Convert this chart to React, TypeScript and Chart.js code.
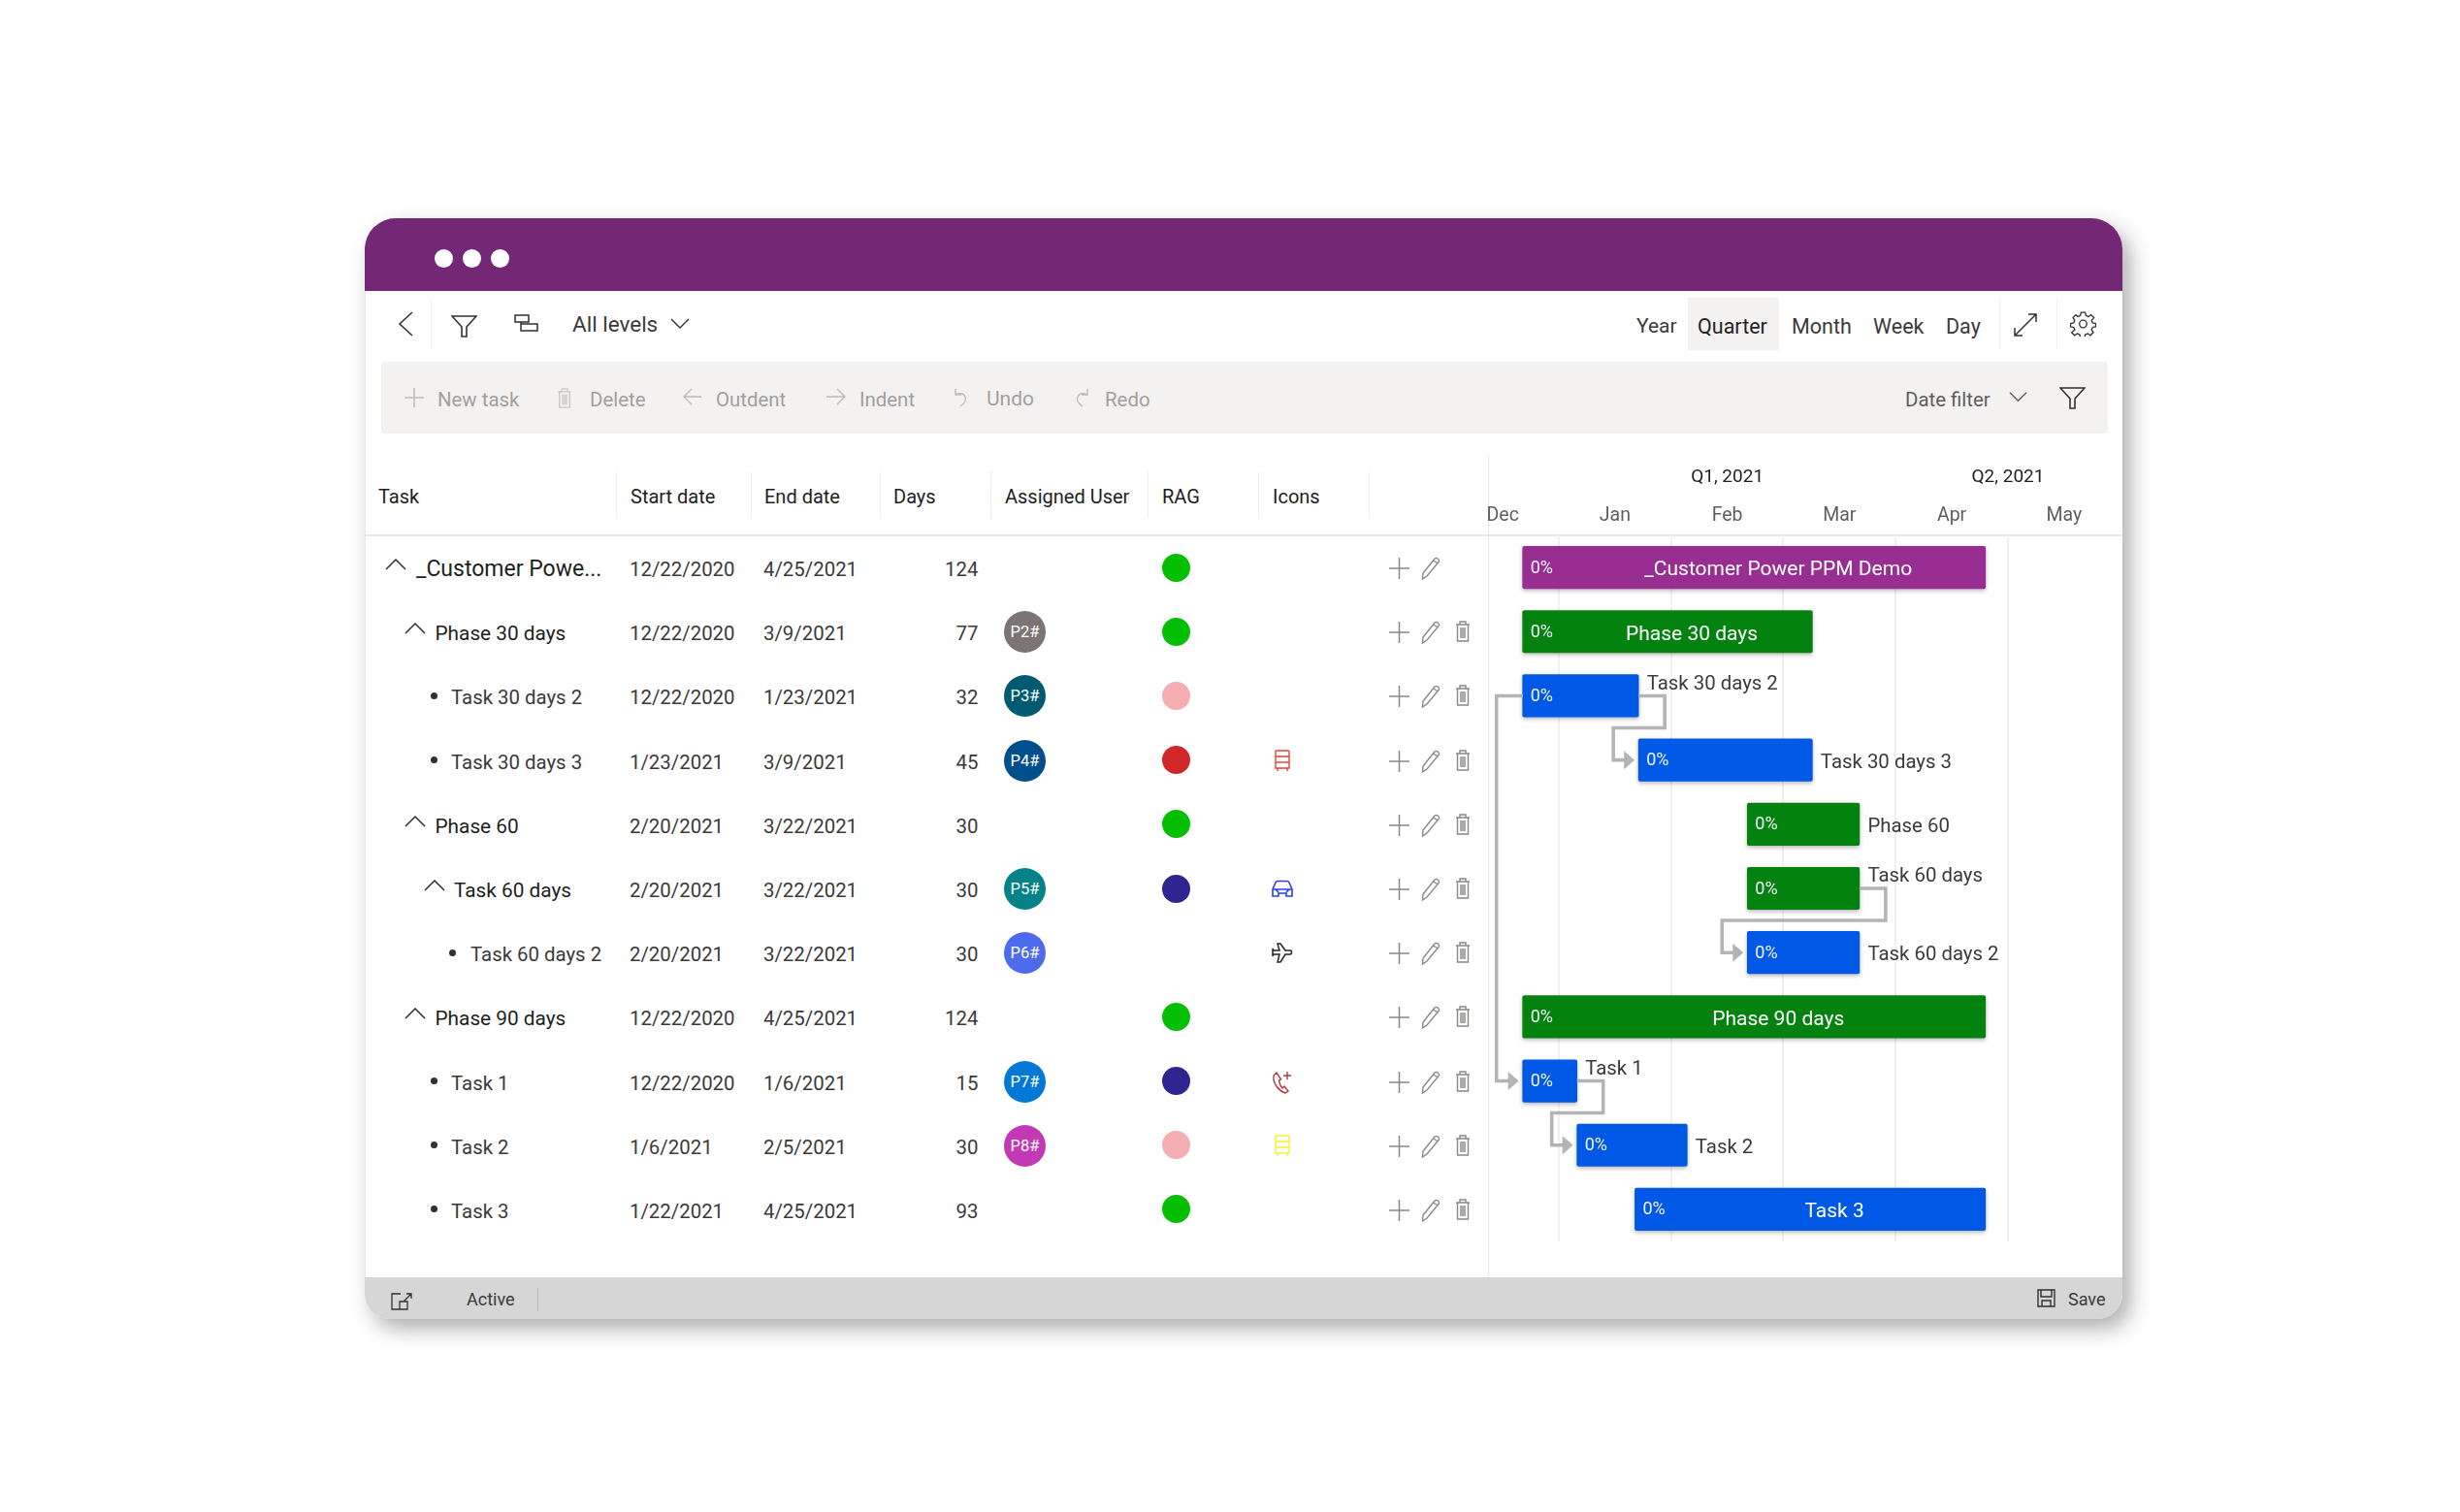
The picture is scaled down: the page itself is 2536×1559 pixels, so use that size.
import { useEffect, useRef } from 'react'
import { Chart, registerables } from 'chart.js'

Chart.register(...registerables)

const FONT = 'Roboto, sans-serif'

// table + gantt data
const taskNames = ['_Customer Power PPM Demo', 'Phase 30 days', 'Task 30 days 2', 'Task 30 days 3', 'Phase 60', 'Task 60 days', 'Task 60 days 2', 'Phase 90 days', 'Task 1', 'Task 2', 'Task 3']
const tableNames = ['_Customer Powe...', 'Phase 30 days', 'Task 30 days 2', 'Task 30 days 3', 'Phase 60', 'Task 60 days', 'Task 60 days 2', 'Phase 90 days', 'Task 1', 'Task 2', 'Task 3']
const startDates = ['12/22/2020', '12/22/2020', '12/22/2020', '1/23/2021', '2/20/2021', '2/20/2021', '2/20/2021', '12/22/2020', '12/22/2020', '1/6/2021', '1/22/2021']
const endDates = ['4/25/2021', '3/9/2021', '1/23/2021', '3/9/2021', '3/22/2021', '3/22/2021', '3/22/2021', '4/25/2021', '1/6/2021', '2/5/2021', '4/25/2021']
const durations = [124, 77, 32, 45, 30, 30, 30, 124, 15, 30, 93]
const levels = [0, 1, 2, 2, 1, 2, 3, 1, 2, 2, 2]
const isParent = [true, true, false, false, true, true, false, true, false, false, false]
const users = ['', 'P2#', 'P3#', 'P4#', '', 'P5#', 'P6#', '', 'P7#', 'P8#', '']
const userColors = ['', '#7a7574', '#005b70', '#004e8c', '', '#038387', '#4f6bed', '', '#0078d4', '#c239b3', '']
const ragColors = ['#05bf05', '#05bf05', '#f4adb0', '#d02828', '#05bf05', '#2e2591', '', '#05bf05', '#2e2591', '#f4adb0', '#05bf05']
const rowIcons = ['', '', '', 'train', '', 'car', 'plane', '', 'phone', 'bus', '']
const barColors = ['#982e92', '#048210', '#0058e6', '#0058e6', '#048210', '#048210', '#0058e6', '#048210', '#0058e6', '#0058e6', '#0058e6']
// [from row, to row, side of the source bar the link leaves]
const links: [number, number, string][] = [[2, 3, 'end'], [2, 8, 'start'], [5, 6, 'end'], [8, 9, 'end']]
const raisedLabels = [2, 5, 8]

// the axis counts months from Dec 2020, every month gets the same width
const monthLabels = ['Dec', 'Jan', 'Feb', 'Mar', 'Apr', 'May']
const monthCenters = [0.5, 1.5, 2.5, 3.5, 4.5, 5.5]
const monthLines = [1, 2, 3, 4, 5]
const quarterLabels = ['Q1, 2021', 'Q2, 2021']
const quarterCenters = [2.5, 5]

const monthOf = (d: string) => {
  const [m, day, y] = d.split('/').map(Number)
  const daysInMonth = new Date(Date.UTC(y, m, 0)).getUTCDate()
  return (y - 2020) * 12 + m - 12 + (day - 1) / daysInMonth
}

const ROW0 = 585.1
const ROWH = 66.18

const ganttPlugin = {
  id: 'gantt',
  beforeDatasetsDraw(chart: any) {
    const { ctx } = chart
    ctx.save()
    ctx.shadowColor = 'rgba(0,0,0,0.28)'
    ctx.shadowBlur = 4
    ctx.shadowOffsetY = 2
  },
  afterDatasetsDraw(chart: any) {
    const { ctx, scales } = chart
    ctx.restore()
    const xs = scales.x
    const ys = scales.y
    const px = (i: number, which: 0 | 1) => xs.getPixelForValue(which ? monthOf(endDates[i]) : monthOf(startDates[i]))

    // elbow links
    ctx.save()
    ctx.strokeStyle = '#b4b4b4'
    ctx.fillStyle = '#b4b4b4'
    ctx.lineWidth = 3.6
    links.forEach(([a, b, side]) => {
      const y0 = ys.getPixelForValue(a)
      const y1 = ys.getPixelForValue(b)
      const tx = px(b, 0)
      ctx.beginPath()
      if (side === 'end') {
        const x0 = px(a, 1)
        const midY = y0 + 33
        ctx.moveTo(x0, y0)
        ctx.lineTo(x0 + 27, y0)
        ctx.lineTo(x0 + 27, midY)
        ctx.lineTo(tx - 26, midY)
        ctx.lineTo(tx - 26, y1)
      } else {
        const x0 = px(a, 0)
        ctx.moveTo(x0, y0)
        ctx.lineTo(x0 - 27, y0)
        ctx.lineTo(x0 - 27, y1)
      }
      ctx.lineTo(tx - 12, y1)
      ctx.stroke()
      ctx.beginPath()
      ctx.moveTo(tx - 15, y1 - 9.5)
      ctx.lineTo(tx - 4, y1)
      ctx.lineTo(tx - 15, y1 + 9.5)
      ctx.closePath()
      ctx.fill()
    })
    ctx.restore()

    // labels on the bars
    ctx.save()
    ctx.textBaseline = 'middle'
    taskNames.forEach((name, i) => {
      const x0 = px(i, 0)
      const x1 = px(i, 1)
      const y = ys.getPixelForValue(i)
      ctx.fillStyle = '#f2f6ff'
      ctx.textAlign = 'left'
      ctx.font = `18px ${FONT}`
      ctx.fillText('0%', x0 + 8, y + 1)
      if (x1 - x0 > 250) {
        ctx.font = `21px ${FONT}`
        ctx.fillStyle = '#ffffff'
        ctx.textAlign = 'center'
        ctx.fillText(name, (x0 + x1) / 2 + 25, y + 3)
      } else {
        ctx.font = `20.4px ${FONT}`
        ctx.fillStyle = '#3b3a39'
        ctx.fillText(name, x1 + 8.5, raisedLabels.includes(i) ? y - 12 : y + 3)
      }
    })
    ctx.restore()
  },
}

const noSidePadding = (s: any, height: number) => {
  s.height = height
  s.paddingLeft = 0
  s.paddingRight = 0
}

function GanttChart() {
  const canvasRef = useRef<HTMLCanvasElement>(null)

  useEffect(() => {
    if (!canvasRef.current) return
    const xMin = 0.369
    const xMax = 6.02
    const chart = new Chart(canvasRef.current, {
      type: 'bar',
      data: {
        labels: taskNames,
        datasets: [
          {
            data: taskNames.map((_, i) => [monthOf(startDates[i]), monthOf(endDates[i])]),
            backgroundColor: barColors,
            borderRadius: 2,
            borderSkipped: false,
            barThickness: 43.5,
          },
        ],
      } as any,
      options: {
        indexAxis: 'y',
        animation: false,
        responsive: false,
        layout: { padding: 0 },
        plugins: { legend: { display: false }, tooltip: { enabled: false } },
        scales: {
          y: { type: 'category', display: false, offset: true, grid: { display: false } },
          x: {
            type: 'linear',
            position: 'top',
            min: xMin,
            max: xMax,
            afterFit: (s: any) => noSidePadding(s, 40),
            afterBuildTicks: (s: any) => {
              s.ticks = [...monthCenters, ...monthLines].sort((a, b) => a - b).map((value) => ({ value }))
            },
            ticks: {
              autoSkip: false,
              maxRotation: 0,
              padding: 8,
              color: '#605e5c',
              font: { family: FONT, size: 19.5 },
              callback: (v: any) => monthLabels[monthCenters.indexOf(v)] ?? '',
            },
            grid: {
              drawTicks: false,
              color: (c: any) => (monthLines.includes(c.tick?.value) ? '#f1f1f1' : 'rgba(0,0,0,0)'),
              lineWidth: 2,
            },
            border: { display: false },
          },
          xq: {
            type: 'linear',
            position: 'top',
            min: xMin,
            max: xMax,
            afterFit: (s: any) => noSidePadding(s, 42),
            afterBuildTicks: (s: any) => {
              s.ticks = quarterCenters.map((value) => ({ value }))
            },
            ticks: {
              autoSkip: false,
              maxRotation: 0,
              padding: 8,
              color: '#201f1e',
              font: { family: FONT, size: 19 },
              callback: (v: any) => quarterLabels[quarterCenters.indexOf(v)] ?? '',
            },
            grid: { display: false, drawTicks: false },
            border: { display: false },
          },
        },
      } as any,
      plugins: [ganttPlugin],
    })
    return () => { chart.destroy() }
  }, [])

  return (
    <canvas
      ref={canvasRef}
      width={654}
      height={810}
      style={{ position: 'absolute', left: 1534, top: 470, width: 654, height: 810 }}
    />
  )
}

function T({ x, y, size = 20.4, color = '#3b3a39', weight = 400, right, children }: any) {
  return (
    <div
      style={{
        position: 'absolute',
        left: right === undefined ? x : undefined,
        right: right === undefined ? undefined : 2536 - right,
        top: y,
        transform: 'translateY(-50%)',
        fontSize: size,
        color,
        fontWeight: weight,
        whiteSpace: 'nowrap',
        lineHeight: 1.2,
      }}
    >
      {children}
    </div>
  )
}

function Icon({ x, y, w, h, vw = 24, vh = 24, color = '#444', sw = 1.3, children }: any) {
  return (
    <svg
      width={w}
      height={h}
      viewBox={`0 0 ${vw} ${vh}`}
      fill="none"
      stroke={color}
      strokeWidth={sw}
      style={{ position: 'absolute', left: x, top: y }}
    >
      {children}
    </svg>
  )
}

const Box = ({ x, y, w, h, c, r = 0 }: any) => (
  <div style={{ position: 'absolute', left: x, top: y, width: w, height: h, background: c, borderRadius: r }} />
)

const FilterIcon = ({ x, y, w, h, color }: any) => (
  <Icon x={x} y={y} w={w} h={h} vw={27} vh={23} color={color} sw={1.6}>
    <path d="M1 1h25L16 12v10h-5V12z" />
  </Icon>
)
const Trash = ({ x, y, color, w = 16, h = 22 }: any) => (
  <Icon x={x} y={y} w={w} h={h} vw={16} vh={22} color={color} sw={1.4}>
    <path d="M1 4h14M5 4V1h6v3M2.5 4v17h11V4M6 7v11M8 7v11M10 7v11" />
  </Icon>
)
const Pencil = ({ x, y }: any) => (
  <Icon x={x} y={y} w={21} h={24} vw={21} vh={24} color="#8a8886" sw={1.4}>
    <path d="M2 17L14 2c2-1.500 5 .5 4.500 3L6 20l-4.500 3z M12.500 4l5 3" />
  </Icon>
)
const ChevronUp = ({ x, y }: any) => (
  <Icon x={x} y={y} w={22} h={12} vw={22} vh={12} color="#323130" sw={1.5}>
    <path d="M1 11L11 1l10 10" />
  </Icon>
)

function RowIcon({ kind, y }: { kind: string; y: number }) {
  const x = 1310
  const top = y - 13
  if (kind === 'train' || kind === 'bus') {
    return (
      <Icon x={x} y={top} w={24} h={26} color={kind === 'train' ? '#e8433b' : '#f6f232'} sw={1.4}>
        <path d="M6 2h12a1 1 0 0 1 1 1v17H5V3a1 1 0 0 1 1-1zM5 8h14M5 14h14M7 20v3M17 20v3" />
      </Icon>
    )
  }
  if (kind === 'car') {
    return (
      <Icon x={x} y={top} w={24} h={26} color="#2b3bf5" sw={1.6}>
        <path d="M2 20v-7l3-7c.5-1 1-1.500 2-1.500h10c1 0 1.500.5 2 1.500l3 7v7h-6v-3H8v3zM2 13h20M5 13l3 3M19 13l-3 3" />
      </Icon>
    )
  }
  if (kind === 'plane') {
    return (
      <Icon x={x} y={top} w={24} h={26} color="#252423" sw={1.5}>
        <path d="M3 10h6L7 3h3l5 7h5c2 0 2 4 0 4h-5l-5 8H7l2-8H3l-1 2V8z" />
      </Icon>
    )
  }
  return (
    <Icon x={x} y={top - 2} w={24} h={28} color="#b5383c" sw={1.4}>
      <path d="M6 4L3 7c-1 7 4 15 12 18l3-2-4-5-2 2c-2-2-3-5-3.500-8l2-1zM17 3v8M13 7h8" />
    </Icon>
  )
}

export default function App() {
  return (
    <div style={{ position: 'absolute', left: 0, top: 0, width: 2536, height: 1559, overflow: 'hidden', background: '#fff', fontFamily: FONT }}>
      {/* window */}
      <div
        style={{
          position: 'absolute',
          left: 376,
          top: 225,
          width: 1812,
          height: 1135,
          background: '#fff',
          borderRadius: '32px 32px 26px 26px',
          boxShadow: '8px 10px 22px rgba(0,0,0,0.32)',
          overflow: 'hidden',
        }}
      >
        <Box x={0} y={0} w={1812} h={75} c="#742774" />
        <Box x={0} y={1092} w={1812} h={43} c="#d6d6d6" />
      </div>
      <Box x={376} y={300} w={1} h={1017} c="#e6e6e6" />

      {[457, 486, 515].map((cx) => (
        <Box key={cx} x={cx - 9.5} y={256.500} w={19} h={19} r="50%" c="#fff" />
      ))}

      {/* top toolbar */}
      <Icon x={410} y={321} w={16} h={26} vw={16} vh={26} color="#323130" sw={1.6}><path d="M15 1L2 13l13 12" /></Icon>
      <Box x={444} y={308} w={1} h={52} c="#f0f0f0" />
      <FilterIcon x={465} y={325} w={27} h={23} color="#323130" />
      <Icon x={530} y={324} w={25} h={18} vw={25} vh={18} color="#323130" sw={1.5}><path d="M1 1h14v7H1zM7 8v9h17v-7H7" /></Icon>
      <T x={590} y={334} size={22.500}>All levels</T>
      <Icon x={691} y={328} w={20} h={11} vw={20} vh={11} color="#323130" sw={1.4}><path d="M1 1l9 9 9-9" /></Icon>

      <T x={1687} y={337} size={21}>Year</T>
      <Box x={1740} y={307} w={94} h={54} c="#f3f2f1" />
      <T x={1750} y={337} size={21.500} color="#252423">Quarter</T>
      <T x={1847} y={337} size={21.500}>Month</T>
      <T x={1931} y={337} size={21.500}>Week</T>
      <T x={2006} y={337} size={21.500}>Day</T>
      <Box x={2061} y={308} w={1} h={52} c="#f0f0f0" />
      <Box x={2120} y={308} w={1} h={52} c="#f0f0f0" />
      <Icon x={2076} y={323} w={24} h={24} color="#323130" sw={1.5}><path d="M1 23L23 1M15 1h8v8M1 15v8h8" /></Icon>
      <Icon x={2134} y={321} w={27} h={26} vw={24} vh={24} color="#323130" sw={1.2}>
        <circle cx="12" cy="12" r="3.500" />
        <path d="M10 1h4l.6 3 2.400 1 2.500-1.700 2.800 2.800L20 8.600l1 2.400 3 .6v3l-3 .6-1 2.400 1.700 2.500-2.800 2.800-2.500-1.700-2.400 1-.6 2.800h-4l-.6-2.800-2.400-1-2.500 1.700-2.800-2.800L4 17.600l-1-2.400-3-.6v-3l3-.6 1-2.400-1.700-2.500 2.800-2.800L7 5l2.400-1z" />
      </Icon>

      {/* command bar */}
      <Box x={393} y={373} w={1780} h={74} c="#f3f2f1" r={4} />
      <Icon x={417} y={400} w={20} h={20} vw={20} vh={20} color="#bdbbb9" sw={1.5}><path d="M10 0v20M0 10h20" /></Icon>
      <T x={451} y={412} color="#a19f9d">New task</T>
      <Trash x={574} y={400} w={16} h={21} color="#c8c6c4" />
      <T x={608} y={412} color="#a19f9d">Delete</T>
      <Icon x={704} y={400} w={19} h={18} vw={19} vh={18} color="#bdbbb9" sw={1.4}><path d="M19 9H1M9 1L1 9l8 8" /></Icon>
      <T x={738} y={412} color="#a19f9d">Outdent</T>
      <Icon x={852} y={400} w={20} h={18} vw={20} vh={18} color="#bdbbb9" sw={1.4}><path d="M0 9h19M11 1l8 8-8 8" /></Icon>
      <T x={886} y={412} color="#a19f9d">Indent</T>
      <Icon x={984} y={400} w={16} h={20} vw={16} vh={20} color="#bdbbb9" sw={1.4}><path d="M1 1v6h6M1 7c8-5 16 5 5 12" /></Icon>
      <T x={1017} y={412} size={21} color="#a19f9d">Undo</T>
      <Icon x={1106} y={400} w={16} h={20} vw={16} vh={20} color="#bdbbb9" sw={1.4}><path d="M15 1v6H9M15 7C7 2-1 12 10 19" /></Icon>
      <T x={1139} y={412} color="#a19f9d">Redo</T>
      <T x={1964} y={412} color="#605e5c">Date filter</T>
      <Icon x={2071} y={403} w={19} h={12} vw={20} vh={11} color="#605e5c" sw={1.4}><path d="M1 1l9 9 9-9" /></Icon>
      <FilterIcon x={2123} y={399} w={27} h={23} color="#323130" />

      {/* table header */}
      {[635, 774, 907, 1021, 1183, 1297, 1411].map((x) => (
        <Box key={x} x={x} y={486} w={1} h={48} c="#eeeeee" />
      ))}
      {[['Task', 390], ['Start date', 650], ['End date', 788], ['Days', 921], ['Assigned User', 1036], ['RAG', 1198], ['Icons', 1312]].map(([t, x]) => (
        <T key={t as string} x={x} y={511.500} size={20} color="#1f1e1d">{t}</T>
      ))}
      <Box x={377} y={551} w={1810} h={2} c="#e8e8e8" />
      <Box x={1534} y={470} w={1} h={847} c="#e6e6e6" />

      {/* table rows */}
      {tableNames.map((name, i) => {
        const y = ROW0 + ROWH * i
        const indent = levels[i] * 20
        return (
          <div key={name}>
            {isParent[i] ? (
              <>
                <ChevronUp x={397 + indent} y={y - 9} />
                <T x={429 + (levels[i] === 0 ? 0 : 19.500 + (levels[i] - 1) * 19.500)} y={y + 2} size={levels[i] === 0 ? 23 : 20.800} color="#201f1e">{name}</T>
              </>
            ) : (
              <>
                <Box x={443.500 + (levels[i] - 2) * 19.500} y={y - 3.500} w={7} h={7} r="50%" c="#323130" />
                <T x={465 + (levels[i] - 2) * 20} y={y + 2}>{name}</T>
              </>
            )}
            <T x={649} y={y + 2}>{startDates[i]}</T>
            <T x={787} y={y + 2}>{endDates[i]}</T>
            <T right={1008.500} y={y + 2}>{durations[i]}</T>
            {users[i] && (
              <div
                style={{
                  position: 'absolute',
                  left: 1035,
                  top: y - 21,
                  width: 43,
                  height: 43,
                  borderRadius: '50%',
                  background: userColors[i],
                  color: '#fff',
                  fontSize: 16.500,
                  lineHeight: '43px',
                  textAlign: 'center',
                }}
              >
                {users[i]}
              </div>
            )}
            {ragColors[i] && <Box x={1197.500} y={y - 14.500} w={29} h={29} r="50%" c={ragColors[i]} />}
            {rowIcons[i] && <RowIcon kind={rowIcons[i]} y={y} />}
            <Icon x={1432} y={y - 11} w={21} h={24} vw={21} vh={24} color="#8a8886" sw={1.5}><path d="M10.500 1v22M0 12h21" /></Icon>
            <Pencil x={1465} y={y - 11} />
            {i > 0 && <Trash x={1500} y={y - 11} color="#8a8886" />}
          </div>
        )
      })}

      <GanttChart />

      {/* status bar */}
      <Icon x={403} y={1333} w={22} h={18} vw={22} vh={18} color="#323130" sw={1.3}><path d="M10 1H1v16h16v-8H9v8M13 9l8-8M16 1h5v5" /></Icon>
      <T x={481} y={1340} size={18}>Active</T>
      <Box x={554} y={1328} w={1} h={24} c="#b8b8b8" />
      <Icon x={2100} y={1329} w={19} h={19} vw={19} vh={19} color="#323130" sw={1.4}><path d="M1 1h17v17H1zM4 1v7h11V1M5 18v-6h9v6" /></Icon>
      <T x={2132} y={1340} size={18}>Save</T>
    </div>
  )
}
